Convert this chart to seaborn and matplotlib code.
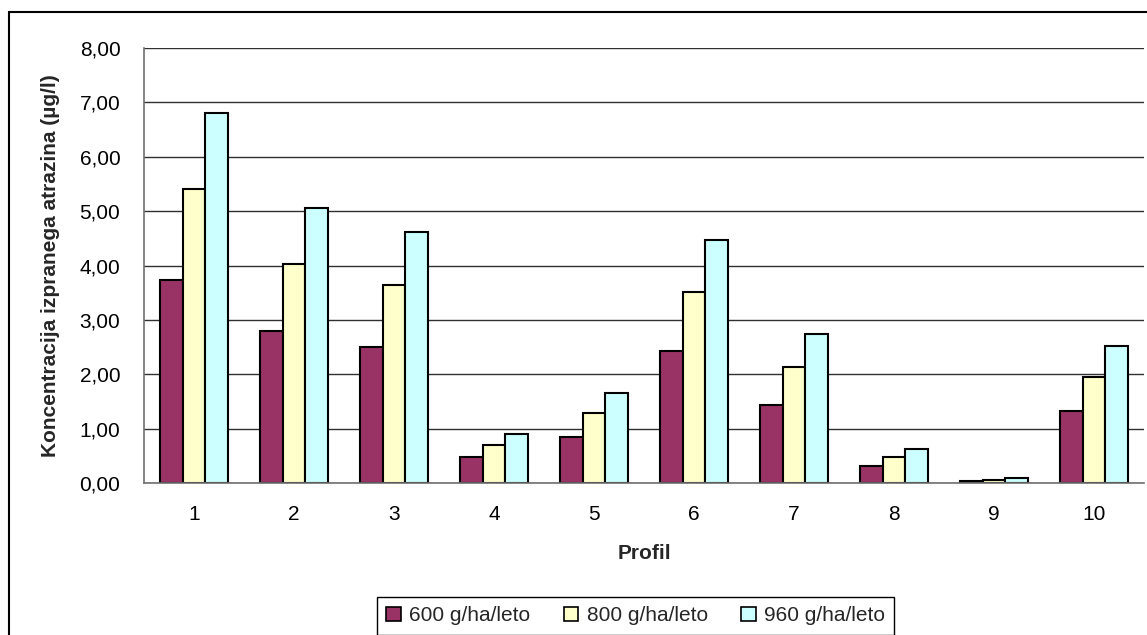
import matplotlib
matplotlib.use("Agg")
import matplotlib.pyplot as plt
from matplotlib.patches import Rectangle, Patch
from matplotlib.ticker import FixedLocator, FuncFormatter
import seaborn as sns
import pandas as pd

profiles = ["1", "2", "3", "4", "5", "6", "7", "8", "9", "10"]
series_names = ["600 g/ha/leto", "800 g/ha/leto", "960 g/ha/leto"]
v600 = [3.73, 2.79, 2.51, 0.47, 0.85, 2.42, 1.44, 0.32, 0.03, 1.32]
v800 = [5.41, 4.02, 3.64, 0.69, 1.28, 3.52, 2.14, 0.47, 0.06, 1.95]
v960 = [6.81, 5.06, 4.62, 0.91, 1.66, 4.47, 2.74, 0.63, 0.09, 2.52]
colors = ["#993366", "#FFFFCC", "#CCFFFF"]

rows = []
for name, vals in zip(series_names, [v600, v800, v960]):
    for p, v in zip(profiles, vals):
        rows.append({"Profil": p, "Serija": name, "Vrednost": v})
df = pd.DataFrame(rows)

sns.set_theme(style="white")
plt.rcParams["font.family"] = ["Liberation Sans", "DejaVu Sans"]

W, H = 1147, 635
FS = 15
fig = plt.figure(figsize=(W / 100, H / 100), dpi=100)
ax = fig.add_axes([144 / W, 1 - 483 / H, (1144 - 144) / W, (483 - 48) / H])

sns.barplot(data=df, x="Profil", y="Vrednost", hue="Serija", order=profiles,
            hue_order=series_names, palette=colors, edgecolor="black",
            linewidth=1.5, width=0.68, ax=ax, legend=False, saturation=1)

ax.set_xlim(-0.5, 9.5)
ax.set_ylim(0, 8)
ax.set_yticks(range(0, 9))
ax.yaxis.set_major_formatter(FuncFormatter(lambda v, p: f"{v:.2f}".replace(".", ",")))
ax.set_axisbelow(True)
ax.yaxis.grid(True, color="#303030", linewidth=1)
ax.xaxis.grid(False)

ax.xaxis.set_minor_locator(FixedLocator([i - 0.5 for i in range(11)]))
ax.tick_params(axis="x", which="major", length=0, pad=16, labelsize=FS, labelcolor="black")
ax.tick_params(axis="x", which="minor", length=6, width=1, color="#606060", direction="out")
ax.tick_params(axis="y", which="major", length=7, width=1, color="#606060",
               direction="out", pad=10, labelsize=FS, labelcolor="black")

for s in ["top", "right"]:
    ax.spines[s].set_visible(False)
for s in ["left", "bottom"]:
    ax.spines[s].set_color("#707070")
    ax.spines[s].set_linewidth(1.2)

ax.set_xlabel("Profil", fontsize=FS, fontweight="bold", labelpad=14)
ax.set_ylabel("Koncentracija izpranega atrazina (µg/l)", fontsize=FS,
              fontweight="bold", labelpad=14)

handles = [Patch(facecolor=c, edgecolor="black", linewidth=1.2) for c in colors]
leg = fig.legend(handles, series_names, loc="upper left",
                 bbox_to_anchor=(377 / W, 1 - 597 / H), ncol=3, fontsize=FS,
                 frameon=True, fancybox=False, framealpha=1, edgecolor="black",
                 handlelength=0.7, handleheight=0.7, handletextpad=0.4,
                 columnspacing=1.6, borderpad=0.45, borderaxespad=0)
leg.get_frame().set_linewidth(1.0)

fig.patches.append(Rectangle((9 / W, -0.1), 1.2, 1 - 12 / H + 0.1,
                             transform=fig.transFigure, fill=False,
                             edgecolor="black", linewidth=1.5, zorder=-1))

fig.savefig("out.png", dpi=100)
